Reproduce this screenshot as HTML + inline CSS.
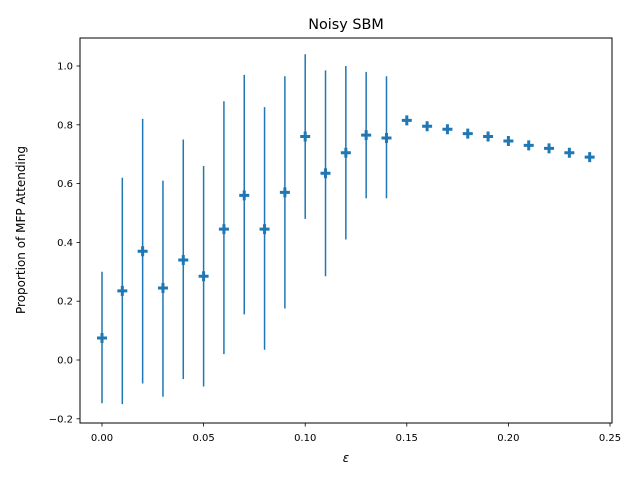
<!DOCTYPE html>
<html><head><meta charset="utf-8"><style>
body{margin:0;background:#fff;}
svg text{font-family:"DejaVu Sans","Liberation Sans",sans-serif;}
</style></head><body>
<svg id="chart" width="640" height="480" viewBox="0 0 640 480">
<rect x="0" y="0" width="640" height="480" fill="#fff"/>
<text x="346" y="29" font-size="14.4" text-anchor="middle">Noisy SBM</text>
<g id="marks"></g>
<g id="axes"></g>
<rect x="80" y="38" width="532" height="385" fill="none" stroke="#000" stroke-width="1"/>
<text x="346" y="462" font-size="12" font-style="italic" text-anchor="middle">ε</text>
<text transform="translate(25,230) rotate(-90)" font-size="12" text-anchor="middle">Proportion of MFP Attending</text>
</svg>
<script>
const eps = [0,0.01,0.02,0.03,0.04,0.05,0.06,0.07,0.08,0.09,0.10,0.11,0.12,0.13,0.14,0.15,0.16,0.17,0.18,0.19,0.20,0.21,0.22,0.23,0.24];
const means = [0.075,0.235,0.37,0.245,0.34,0.285,0.445,0.56,0.445,0.57,0.76,0.635,0.705,0.765,0.755,0.815,0.795,0.785,0.77,0.76,0.745,0.73,0.72,0.705,0.69];
const upper = [0.30,0.62,0.82,0.61,0.75,0.66,0.88,0.97,0.86,0.965,1.04,0.985,1.0,0.98,0.965,0.815,0.795,0.785,0.77,0.76,0.745,0.73,0.72,0.705,0.69];
const lower = [-0.147,-0.15,-0.08,-0.125,-0.065,-0.09,0.02,0.155,0.035,0.175,0.48,0.285,0.41,0.55,0.55,0.815,0.795,0.785,0.77,0.76,0.745,0.73,0.72,0.705,0.69];
const xTicks = [0,0.05,0.10,0.15,0.20,0.25];
const xTickLabels = ["0.00","0.05","0.10","0.15","0.20","0.25"];
const yTicks = [-0.2,0,0.2,0.4,0.6,0.8,1.0];
const yTickLabels = ["−0.2","0.0","0.2","0.4","0.6","0.8","1.0"];
const NS="http://www.w3.org/2000/svg";
function xs(v){return 102+v*2032;}
function ys(v){return 360-v*294;}
function mk(tag,attrs,parent){const e=document.createElementNS(NS,tag);for(const k in attrs)e.setAttribute(k,attrs[k]);parent.appendChild(e);return e;}
const marks=document.getElementById('marks'), axes=document.getElementById('axes');
const C="#1f77b4";
eps.forEach((e,i)=>{
  const x=xs(e);
  const l=mk('line',{x1:x,x2:x,y1:ys(upper[i]),y2:ys(lower[i]),stroke:C,'stroke-width':1.5},marks);
  
  
  const y=ys(means[i]);
  const p=mk('path',{d:`M${x-5},${y}H${x+5}M${x},${y-5}V${y+5}`,stroke:C,'stroke-width':3,fill:'none'},marks);
  
  
});
xTicks.forEach((t,i)=>{
  const x=xs(t);
  const tk=mk('line',{x1:x,x2:x,y1:423,y2:426.5,stroke:'#000','stroke-width':0.8},axes);
  
  
  const tx=mk('text',{x:x,y:441,'font-size':10,'text-anchor':'middle'},axes);
  tx.textContent=xTickLabels[i];
  
  
});
yTicks.forEach((t,i)=>{
  const y=ys(t);
  const tk=mk('line',{x1:76.5,x2:80,y1:y,y2:y,stroke:'#000','stroke-width':0.8},axes);
  
  
  const tx=mk('text',{x:73,y:y+3.5,'font-size':10,'text-anchor':'end'},axes);
  tx.textContent=yTickLabels[i];
  
  
});
</script>
</body></html>
